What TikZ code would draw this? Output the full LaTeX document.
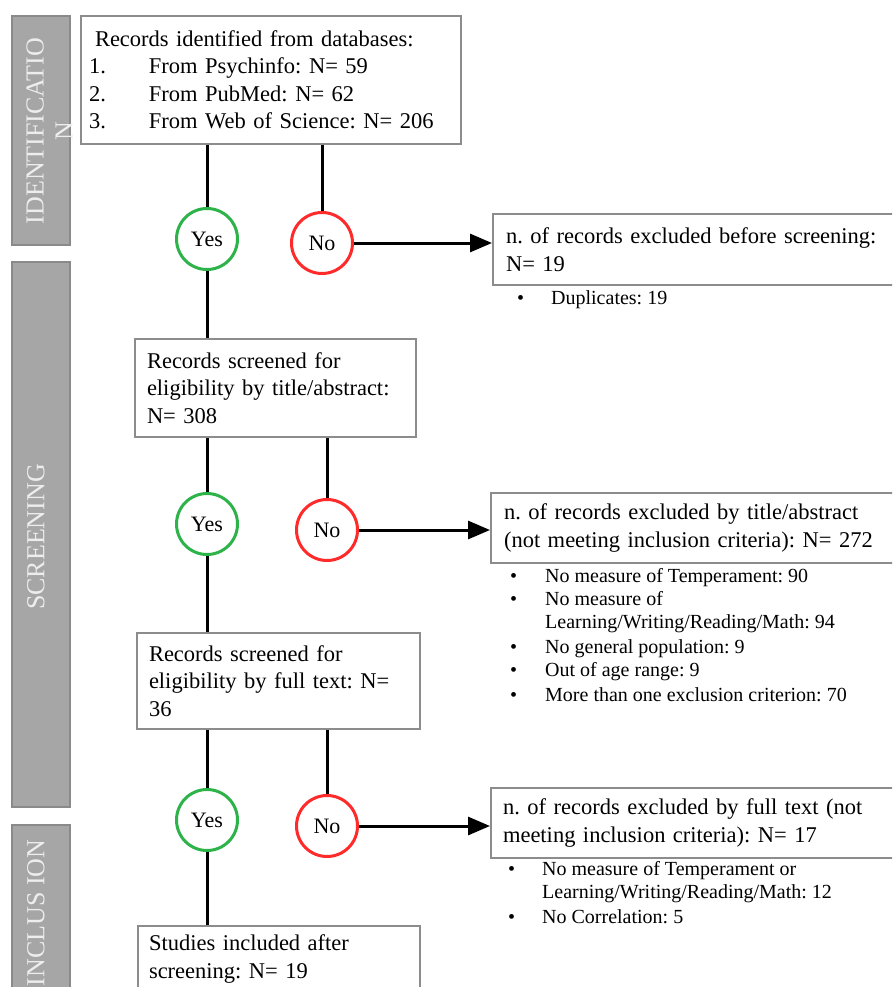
\documentclass[tikz,border=0pt]{standalone}
\usepackage{fontspec}
\setmainfont{Liberation Serif}
\usetikzlibrary{arrows.meta}
\definecolor{boxgray}{HTML}{8C8C8C}
\definecolor{barfill}{HTML}{A6A6A6}
\definecolor{barline}{HTML}{8A8A8A}
\definecolor{bartext}{HTML}{EDEDED}
\definecolor{yesgreen}{HTML}{2DB34A}
\definecolor{nored}{HTML}{FF2A2A}
\frenchspacing
\begin{document}
\begin{tikzpicture}[x=1pt,y=-1pt,
  box/.style={draw=boxgray, line width=2pt, fill=white, align=left, anchor=north west,
    inner ysep=0pt, font=\fontsize{22.5}{27.5}\selectfont},
  bar/.style={draw=barline, line width=2pt, fill=barfill},
  bartxt/.style={rotate=90, align=center, text=bartext, font=\fontsize{26}{29}\selectfont},
  yesc/.style={circle, draw=yesgreen, line width=3pt, minimum size=61pt, inner sep=0pt, font=\fontsize{22}{24}\selectfont},
  noc/.style={circle, draw=nored, line width=3pt, minimum size=61pt, inner sep=0pt, font=\fontsize{22}{24}\selectfont},
  conn/.style={line width=3pt, black},
  arr/.style={line width=3pt, black, -{Triangle[length=22pt,width=18pt]}},
  itm/.style={anchor=base west, inner sep=0pt, font=\fontsize{20}{23}\selectfont},
]
\useasboundingbox (0,0) rectangle (892,987);
\clip (0,0) rectangle (892,987);
\fill[white] (0,0) rectangle (892,987);

% side bars
\draw[bar] (12,16) rectangle (70,245);
\draw[bar] (12,262) rectangle (70,807);
\draw[bar] (12,825) rectangle (70,1010);
\node[bartxt] (tid) at (49.5,131) {IDENTIFICATIO\\N};
\node[bartxt] (tsc) at (36,537) {SCREENING};
\node[bartxt] (tin) at (36,913) {INCLUS ION};

% main boxes
\node[box, minimum width=380pt, minimum height=128pt, inner xsep=8pt, text width=364pt] (b1) at (80,15)
 {\hspace*{6pt}Records identified from databases:\\
  \makebox[60pt][l]{1.}From Psychinfo: N= 59\\
  \makebox[60pt][l]{2.}From PubMed: N= 62\\
  \makebox[60pt][l]{3.}From Web of Science: N= 206};
\node[box, minimum width=281pt, minimum height=98pt, inner xsep=12pt, text width=257pt] (b2) at (134,338)
 {Records screened for\\eligibility by title/abstract:\\N= 308};
\node[box, minimum width=283pt, minimum height=96pt, inner xsep=12pt, text width=259pt] (b3) at (136,632)
 {Records screened for\\eligibility by full text: N=\\36};
\node[box, minimum width=282pt, minimum height=66pt, inner xsep=11pt, text width=260pt] (b4) at (137,925)
 {Studies included after\\screening: N= 19};

% exclusion boxes
\node[box, minimum width=420pt, minimum height=71pt, inner xsep=13pt, text width=394pt] (e1) at (492,213)
 {n. of records excluded before screening:\\N= 19};
\node[box, minimum width=420pt, minimum height=70pt, inner xsep=13pt, text width=394pt] (e2) at (490,492)
 {n. of records excluded by title/abstract\\(not meeting inclusion criteria): N= 272};
\node[box, minimum width=420pt, minimum height=70pt, inner xsep=12pt, text width=396pt] (e3) at (490,787)
 {n. of records excluded by full text (not\\meeting inclusion criteria): N= 17};

% circles
\node[yesc] (y1) at (207,239) {Yes};
\node[noc]  (n1) at (322,243) {No};
\node[yesc] (y2) at (207,524) {Yes};
\node[noc]  (n2) at (327,530) {No};
\node[yesc] (y3) at (207,820) {Yes};
\node[noc]  (n3) at (327,826) {No};

% connectors
\draw[conn] (y1 |- b1.south) -- (y1.north);
\draw[conn] (n1 |- b1.south) -- (n1.north);
\draw[conn] (y1.south) -- (y1 |- b2.north);
\draw[conn] (y2 |- b2.south) -- (y2.north);
\draw[conn] (n2 |- b2.south) -- (n2.north);
\draw[conn] (y2.south) -- (y2 |- b3.north);
\draw[conn] (y3 |- b3.south) -- (y3.north);
\draw[conn] (n3 |- b3.south) -- (n3.north);
\draw[conn] (y3.south) -- (y3 |- b4.north);
\draw[arr] (n1.east) -- (n1.east -| e1.west);
\draw[arr] (n2.east) -- (n2.east -| e2.west);
\draw[arr] (n3.east) -- (n3.east -| e3.west);

% bullet lists
\node[itm] (l1a) at (517,304) {\makebox[34pt][l]{\textbullet}Duplicates: 19};
\node[itm] (l2a) at (510,582) {\makebox[35pt][l]{\textbullet}No measure of Temperament: 90};
\node[itm] (l2b) at (510,605) {\makebox[35pt][l]{\textbullet}No measure of};
\node[itm] (l2c) at (545,628) {Learning/Writing/Reading/Math: 94};
\node[itm] (l2d) at (510,653) {\makebox[35pt][l]{\textbullet}No general population: 9};
\node[itm] (l2e) at (510,676) {\makebox[35pt][l]{\textbullet}Out of age range: 9};
\node[itm] (l2f) at (510,701) {\makebox[35pt][l]{\textbullet}More than one exclusion criterion: 70};
\node[itm] (l3a) at (508,875) {\makebox[34pt][l]{\textbullet}No measure of Temperament or};
\node[itm] (l3b) at (542,898) {Learning/Writing/Reading/Math: 12};
\node[itm] (l3c) at (508,923) {\makebox[34pt][l]{\textbullet}No Correlation: 5};
\end{tikzpicture}
\end{document}
